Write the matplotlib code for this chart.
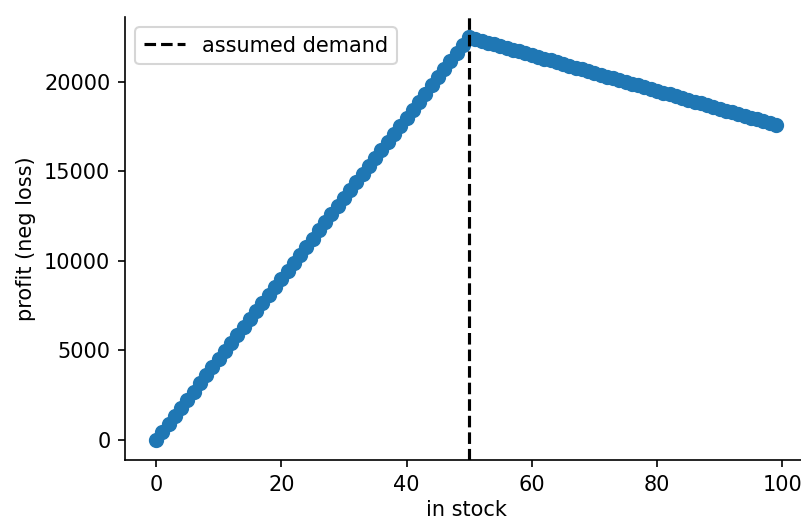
import matplotlib
matplotlib.use("Agg")
import matplotlib.pyplot as plt

in_stock = list(range(100))
profit = [
    0, 450, 900, 1350, 1800, 2250, 2700, 3150, 3600, 4050,
    4500, 4950, 5400, 5850, 6300, 6750, 7200, 7650, 8100, 8550,
    9000, 9450, 9900, 10350, 10800, 11250, 11700, 12150, 12600, 13050,
    13500, 13950, 14400, 14850, 15300, 15750, 16200, 16650, 17100, 17550,
    18000, 18450, 18900, 19350, 19800, 20250, 20700, 21150, 21600, 22050,
    22500, 22400, 22300, 22200, 22100, 22000, 21900, 21800, 21700, 21600,
    21500, 21400, 21300, 21200, 21100, 21000, 20900, 20800, 20700, 20600,
    20500, 20400, 20300, 20200, 20100, 20000, 19900, 19800, 19700, 19600,
    19500, 19400, 19300, 19200, 19100, 19000, 18900, 18800, 18700, 18600,
    18500, 18400, 18300, 18200, 18100, 18000, 17900, 17800, 17700, 17600,
]
assumed_demand = 50

dpi = 150
fig = plt.figure(figsize=(801 / dpi, 520 / dpi), dpi=dpi)
ax = fig.add_axes([125 / 801, 60 / 520, 682 / 801, 443 / 520])
ax.scatter(in_stock, profit, color="#1f77b4", s=40)
ax.axvline(assumed_demand, color="k", linestyle="--", label="assumed demand")
ax.set_xlabel("in stock", labelpad=2.5)
ax.set_ylabel("profit (neg loss)")
ax.legend(loc="upper left")
ax.spines["top"].set_visible(False)
ax.spines["right"].set_visible(False)
fig.savefig("out.png", dpi=dpi)
